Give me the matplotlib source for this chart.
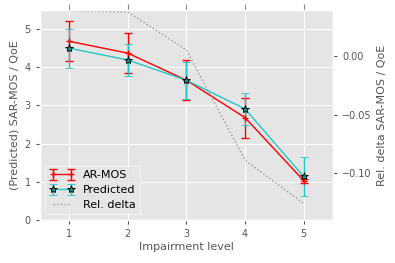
import matplotlib
matplotlib.use("Agg")
import matplotlib.pyplot as plt

plt.style.use("ggplot")

levels = [1, 2, 3, 4, 5]
ar_mos = [4.68, 4.37, 3.66, 2.68, 1.03]
ar_mos_err = [0.52, 0.53, 0.52, 0.52, 0.05]
predicted = [4.50, 4.19, 3.66, 2.91, 1.14]
predicted_err = [0.51, 0.42, 0.48, 0.41, 0.51]
rel_delta = [0.0387, 0.0376, 0.0051, -0.0889, -0.1259]

fig = plt.figure(figsize=(3.95, 2.63), dpi=100)
ax = fig.add_axes([0.101, 0.1635, 0.742, 0.7985])
ax2 = ax.twinx()

h1 = ax.errorbar(levels, ar_mos, yerr=ar_mos_err, color="red", lw=1.0,
                 marker="+", ms=4, capsize=3, elinewidth=1.0, label="AR-MOS")
h2 = ax.errorbar(levels, predicted, yerr=predicted_err, color="#22c8c8", lw=1.0,
                 marker="*", ms=6, mfc="#1a8f8f", mec="black", mew=0.6,
                 capsize=3, elinewidth=1.0, label="Predicted")
h3, = ax2.plot(levels, rel_delta, color="#999999", ls=":", lw=1.0, label="Rel. delta")

ax.set_xlim(0.5, 5.5)
ax.set_ylim(0, 5.5)
ax2.set_ylim(-0.140, 0.0393)
ax.set_xticks(levels)
ax.set_yticks([0, 1, 2, 3, 4, 5])
ax2.set_yticks([-0.10, -0.05, 0.00])
ax2.grid(False)

ax.set_xlabel("Impairment level", fontsize=8, color="#555555", labelpad=2)
ax.set_ylabel("(Predicted) SAR-MOS / QoE", fontsize=8, color="#555555")
ax2.set_ylabel("Rel. delta SAR-MOS / QoE", fontsize=8, color="#555555")
for a in (ax, ax2):
    a.tick_params(labelsize=7, colors="#555555", direction="out", length=3)

ax2.xaxis.set_visible(True)
ax2.tick_params(axis="x", bottom=False, labelbottom=False, top=True,
                labeltop=False, length=4, width=0.8, color="#888888")

leg = ax.legend([h1, h2, h3], ["AR-MOS", "Predicted", "Rel. delta"],
                loc="lower left", fontsize=8, frameon=True, handlelength=2.2,
                borderpad=0.4, labelspacing=0.45, numpoints=2)
leg.get_frame().set_facecolor("#E5E5E5")
leg.get_frame().set_edgecolor("white")

fig.savefig("out.png", dpi=100)
